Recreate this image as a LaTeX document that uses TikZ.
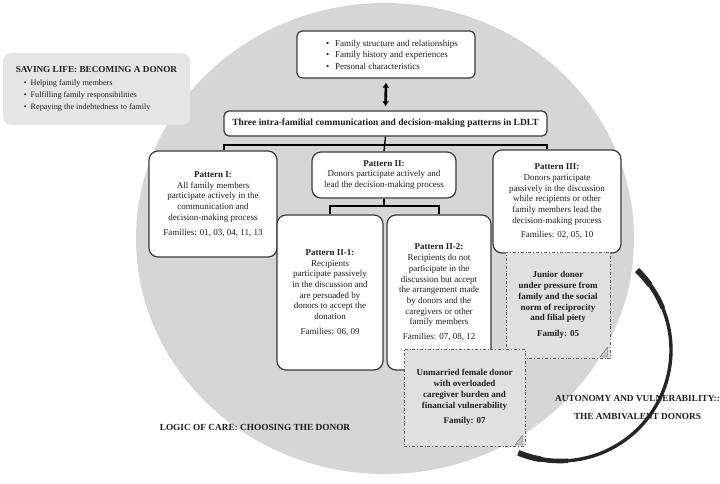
\documentclass[tikz,border=0pt]{standalone}
\usepackage{fontspec}
\setmainfont{Liberation Serif}
\usetikzlibrary{arrows.meta,positioning}
\definecolor{circlegray}{HTML}{D6D6D6}
\definecolor{boxgray}{HTML}{E6E6E6}
\definecolor{notegray}{HTML}{E0E0E0}
\definecolor{linegray}{HTML}{3A3A3A}
\definecolor{textblack}{HTML}{1E1E1E}

\tikzset{
  pattbox/.style={draw=linegray, line width=1.2pt, fill=white, rounded corners=9pt,
    align=center, inner sep=2pt, text=textblack, font=\fontsize{9}{10.7}\selectfont},
  topbox/.style={draw=linegray, line width=1.2pt, fill=white, rounded corners=5pt,
    text=textblack, font=\fontsize{9}{11.5}\selectfont},
  notebox/.style={draw=linegray!80, line width=0.8pt, dash dot, fill=notegray,
    align=center, text=textblack, font=\bfseries\fontsize{9}{10.8}\selectfont},
  bus/.style={line width=1.4pt, draw=black},
  caps/.style={text=textblack, font=\bfseries\fontsize{9.3}{10}\selectfont},
  curl/.style={fill=gray!45, draw=gray!55!black, line width=0.3pt},
  brush/.style={draw=black!85}
}

\begin{document}
\begin{tikzpicture}[x=1pt, y=-1pt]
\useasboundingbox (0,0) rectangle (720,483);

% Big grey disc behind the patterns
\fill[circlegray] (385,238.5) ellipse [x radius=249, y radius=235.5];

% Box on the left (motives)
\node[fill=boxgray, rounded corners=8pt, minimum width=187pt, minimum height=72pt,
  align=left, text=textblack, font=\fontsize{8.2}{12}\selectfont] (saving) at (96.5,89)
  {\textbf{\fontsize{9.2}{12}\selectfont SAVING LIFE: BECOMING A DONOR}\\[1pt]
   \hspace*{8pt}\textbullet\hspace{4pt}Helping family members\\
   \hspace*{8pt}\textbullet\hspace{4pt}Fulfilling family responsibilities\\
   \hspace*{8pt}\textbullet\hspace{4pt}Repaying the indebtedness to family};

% Factors at the top
\node[topbox, minimum width=178pt, minimum height=47pt, align=left] (factors) at (386,54.5)
  {\hspace*{12pt}\textbullet\hspace{6pt}Family structure and relationships\\
   \hspace*{12pt}\textbullet\hspace{6pt}Family history and experiences\\
   \hspace*{12pt}\textbullet\hspace{6pt}Personal characteristics};

% Banner with the three patterns
\node[topbox, minimum width=323pt, minimum height=25pt, font=\bfseries\fontsize{9.5}{10}\selectfont]
  (three) at (385.5,123.5) {Three intra-familial communication and decision-making patterns in LDLT};

\draw[line width=2.6pt, {Latex[length=5pt,width=7pt]}-{Latex[length=5pt,width=7pt]},
  shorten <=4pt, shorten >=4pt] (factors.south) -- (three.north);

% Patterns
\node[pattbox, minimum width=128pt, minimum height=106pt] (p1) at (213,204)
  {\textbf{Pattern I:}\\All family members\\participate actively in the\\communication and\\decision-making process\\[4pt]Families: 01, 03, 04, 11, 13};

\node[pattbox, minimum width=144pt, minimum height=46pt] (p2) at (384,175)
  {\textbf{Pattern II:}\\Donors participate actively and\\lead the decision-making process};

\node[pattbox, minimum width=128pt, minimum height=103pt] (p3) at (557,201.5)
  {\textbf{Pattern III:}\\Donors participate\\passively in the discussion\\while recipients or other\\family members lead the\\decision-making process\\[4pt]Families: 02, 05, 10};

\node[pattbox, minimum width=106pt, minimum height=155pt] (p21) at (330,292.5)
  {\textbf{Pattern II-1:}\\Recipients\\participate passively\\in the discussion and\\are persuaded by\\donors to accept the\\donation\\[4pt]Families: 06, 09};

\node[pattbox, minimum width=104pt, minimum height=155pt] (p22) at (439,292.5)
  {\textbf{Pattern II-2:}\\Recipients do not\\participate in the\\discussion but accept\\the arrangement made\\by donors and the\\caregivers or other\\family members\\[4pt]Families: 07, 08, 12};

% Tree lines
\coordinate (busL) at (224,145);
\coordinate (busR) at (547,145);
\coordinate (subbus) at (384,206);
\draw[bus] (three.south) -- (p2.north);
\draw[bus] (busL |- p1.north) -- (busL) -- (busR) -- (busR |- p3.north);
\draw[bus] (p2.south) -- (subbus);
\draw[bus] (p21.north) |- (subbus) -| (p22.north);

% Vulnerable donors
\node[notebox, minimum width=104pt, minimum height=106pt] (junior) at (558,305)
  {Junior donor\\under pressure from\\family and the social\\norm of reciprocity\\and filial piety\\[5pt]Family: 05};

\node[notebox, minimum width=121pt, minimum height=97pt] (unmarried) at (464.5,397.5)
  {Unmarried female donor\\with overloaded\\caregiver burden and\\financial vulnerability\\[5pt]Family: 07};

\draw[curl] (junior.south east) ++(-3,-2) -- ++(-7,0) -- ++(7,-9) -- cycle;
\draw[curl] (unmarried.south east) ++(-3,-2) -- ++(-7,0) -- ++(7,-9) -- cycle;

% Labels
\node[caps] (logic) at (255,427) {LOGIC OF CARE: CHOOSING THE DONOR};
\node[caps, align=center] (autonomy) at (637.5,407)
  {AUTONOMY AND VULNERABILITY::\\[8pt]THE AMBIVALENT DONORS};

% Brush arc round the vulnerable donors (heavier at both ends)
\coordinate (arcc) at (560,350);
\draw[brush, line width=3.4pt] (arcc) ++(-46:111) arc[start angle=-46, end angle=112, radius=111];
\draw[brush, line width=4.6pt] (arcc) ++(-46:111) arc[start angle=-46, end angle=-22, radius=111];
\draw[brush, line width=5.8pt] (arcc) ++(-46:111) arc[start angle=-46, end angle=-36, radius=111];
\draw[brush, line width=4.6pt] (arcc) ++(86:111) arc[start angle=86, end angle=112, radius=111];
\draw[brush, line width=5.8pt] (arcc) ++(100:111) arc[start angle=100, end angle=112, radius=111];

\end{tikzpicture}
\end{document}
